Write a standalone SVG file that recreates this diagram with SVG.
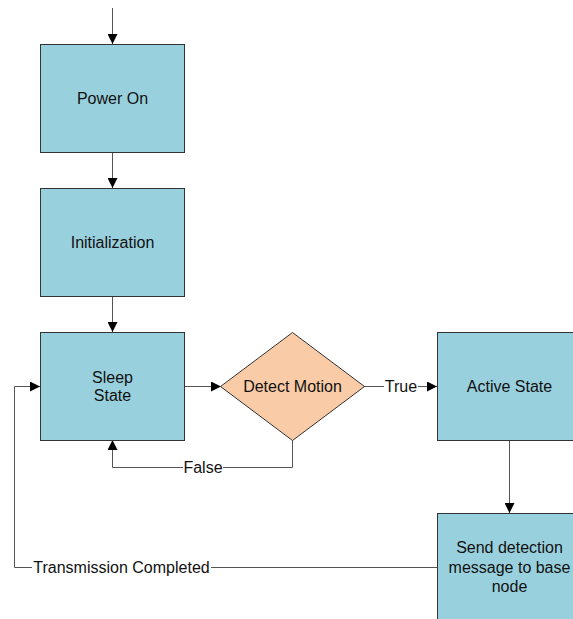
<svg xmlns="http://www.w3.org/2000/svg" width="573" height="619" viewBox="0 0 573 619">
  <defs>
    <marker id="arrow" viewBox="0 0 10 10" refX="10" refY="5" markerWidth="10" markerHeight="10" markerUnits="userSpaceOnUse" orient="auto">
      <path d="M0,0 L10,5 L0,10 Z" fill="#000"/>
    </marker>
    <style>
      .box { fill: #99D0DD; stroke: #333; stroke-width: 1; }
      .dec { fill: #F9CCA7; stroke: #333; stroke-width: 1; }
      .edge { fill: none; stroke: #555; stroke-width: 1; }
      .arr { marker-end: url(#arrow); }
      text { font-family: "Liberation Sans", Arial, sans-serif; font-size: 16px; fill: #111; text-anchor: middle; }
      .bg { fill: #fff; }
    </style>
  </defs>

  <rect width="573" height="619" fill="#fff"/>

  <!-- connectors -->
  <g id="connectors">
    <path class="edge arr" d="M112.5,8 V44"/>
    <path class="edge arr" d="M112.5,152 V188"/>
    <path class="edge arr" d="M112.5,296 V332"/>
    <path class="edge arr" d="M184,386.5 H221"/>
    <path class="edge arr" d="M364,386.5 H437"/>
    <path class="edge arr" d="M292.5,440 V467.5 H112.5 V440"/>
    <path class="edge arr" d="M509.5,440 V513"/>
    <path class="edge arr" d="M437,567.5 H14.5 V386.5 H40"/>
    <!-- edge labels -->
    <rect class="bg" x="384" y="378" width="34" height="17"/>
    <text x="401" y="392">True</text>
    <rect class="bg" x="183" y="459" width="40" height="17"/>
    <text x="203" y="473">False</text>
    <rect class="bg" x="32" y="559" width="179" height="17"/>
    <text x="121.5" y="573">Transmission Completed</text>
  </g>

  <g id="power-on">
    <rect class="box" x="40.5" y="44.5" width="144" height="108"/>
    <text x="112.5" y="104">Power On</text>
  </g>

  <g id="initialization">
    <rect class="box" x="40.5" y="188.5" width="144" height="108"/>
    <text x="112.5" y="248">Initialization</text>
  </g>

  <g id="sleep-state">
    <rect class="box" x="40.5" y="332.5" width="144" height="108"/>
    <text x="112.5" y="383">Sleep</text>
    <text x="112.5" y="401">State</text>
  </g>

  <g id="detect-motion">
    <polygon class="dec" points="292.5,332.5 364.5,386.5 292.5,440.5 220.5,386.5"/>
    <text x="292.5" y="392">Detect Motion</text>
  </g>

  <g id="active-state">
    <rect class="box" x="437.5" y="332.5" width="144" height="108"/>
    <text x="509.5" y="392">Active State</text>
  </g>

  <g id="send-detection">
    <rect class="box" x="437.5" y="513.5" width="144" height="108"/>
    <text x="509.5" y="553">Send detection</text>
    <text x="509.5" y="573">message to base</text>
    <text x="509.5" y="592">node</text>
  </g>
</svg>
